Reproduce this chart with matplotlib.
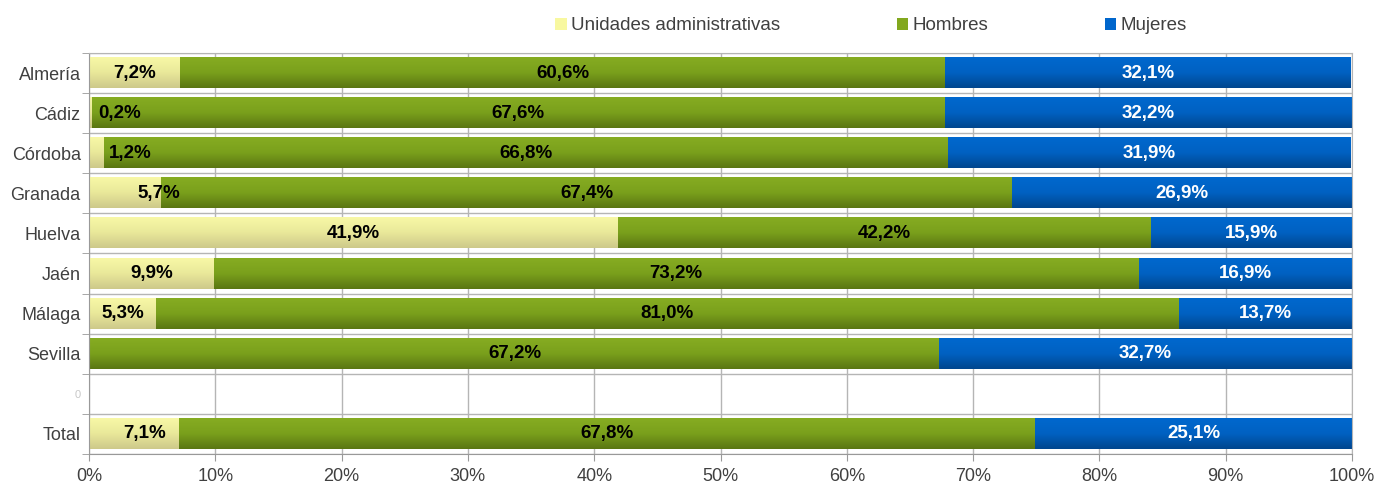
import matplotlib
matplotlib.use("Agg")
import matplotlib.pyplot as plt
from matplotlib.colors import LinearSegmentedColormap
from matplotlib.patches import Patch
import numpy as np

plt.rcParams['font.family'] = ['Liberation Sans', 'DejaVu Sans']

categorias = ["Almería", "Cádiz", "Córdoba", "Granada", "Huelva", "Jaén",
              "Málaga", "Sevilla", "0", "Total"]
unidades = [7.2, 0.2, 1.2, 5.7, 41.9, 9.9, 5.3, 0.1, 0, 7.1]
hombres = [60.6, 67.6, 66.8, 67.4, 42.2, 73.2, 81.0, 67.2, 0, 67.8]
mujeres = [32.1, 32.2, 31.9, 26.9, 15.9, 16.9, 13.7, 32.7, 0, 25.1]
etiquetas_unidades = ["7,2%", "0,2%", "1,2%", "5,7%", "41,9%", "9,9%", "5,3%", "", "", "7,1%"]
etiquetas_hombres = ["60,6%", "67,6%", "66,8%", "67,4%", "42,2%", "73,2%", "81,0%", "67,2%", "", "67,8%"]
etiquetas_mujeres = ["32,1%", "32,2%", "31,9%", "26,9%", "15,9%", "16,9%", "13,7%", "32,7%", "", "25,1%"]
series_nombres = ["Unidades administrativas", "Hombres", "Mujeres"]

# label nudges for the narrow segments (Excel pushes them right)
pos_unidades = {1: 2.4, 2: 3.3, 3: 5.5, 9: 4.4}

colores = {
    "Unidades administrativas": ("#F8F8A6", "#E9E89A", "#CDC98A"),
    "Hombres": ("#86AC22", "#7AA01C", "#5A7612"),
    "Mujeres": ("#0068CE", "#0061C2", "#00468E"),
}
leyenda_col = ["#F8F8A0", "#82A81E", "#0066CC"]

fig = plt.figure(figsize=(13.76, 4.84), dpi=100)
ax = fig.add_axes([89 / 1376, 1 - 454 / 484, (1352 - 89) / 1376, 401 / 484])

y = np.arange(len(categorias))
h = 0.75
grad = np.linspace(0, 1, 64).reshape(-1, 1)

datos = [unidades, hombres, mujeres]
izq = np.zeros(len(categorias))
for nombre, vals in zip(series_nombres, datos):
    cmap = LinearSegmentedColormap.from_list(nombre, colores[nombre])
    for i, v in enumerate(vals):
        if v <= 0:
            continue
        ax.imshow(grad, cmap=cmap, aspect='auto', origin='upper',
                  extent=(izq[i], izq[i] + v, y[i] + h / 2, y[i] - h / 2),
                  zorder=2, interpolation='bilinear')
    izq = izq + np.array(vals)

izq = np.zeros(len(categorias))
for k, (vals, etq) in enumerate(zip(datos, [etiquetas_unidades, etiquetas_hombres, etiquetas_mujeres])):
    for i, v in enumerate(vals):
        if etq[i]:
            xc = izq[i] + v / 2
            if k == 0 and i in pos_unidades:
                xc = pos_unidades[i]
            ax.text(xc, y[i], etq[i], ha='center', va='center', fontsize=13.5,
                    fontweight='bold', color='white' if k == 2 else 'black', zorder=4)
    izq = izq + np.array(vals)

ax.set_xlim(0, 100)
ax.set_ylim(len(categorias) - 0.5, -0.5)

ax.set_xticks(np.arange(0, 101, 10))
ax.set_xticklabels([f"{t}%" for t in range(0, 101, 10)], fontsize=13, color="#404040")
ax.set_yticks(y)
ax.set_yticklabels(categorias, fontsize=13, color="#404040")
ax.get_yticklabels()[8].set_color("#C8C8C8")
ax.get_yticklabels()[8].set_fontsize(8)
ax.set_yticks(np.arange(-0.5, len(categorias)), minor=True)

ax.tick_params(axis='y', which='major', length=0, pad=6)
ax.tick_params(axis='y', which='minor', length=5, color="#999999")
ax.tick_params(axis='x', which='major', length=5, color="#999999", pad=5)

ax.grid(True, axis='x', which='major', color="#B5B5B5", linewidth=1)
ax.grid(True, axis='y', which='minor', color="#B5B5B5", linewidth=1)
ax.set_axisbelow(True)
for s in ax.spines.values():
    s.set_color("#B5B5B5")
ax.spines['left'].set_color("#999999")
ax.spines['bottom'].set_color("#999999")

handles = [Patch(facecolor=c, edgecolor='none', label=n) for c, n in zip(leyenda_col, series_nombres)]
fig.legend(handles=handles, loc='center', bbox_to_anchor=(871 / 1376, 1 - 26 / 484),
           ncol=3, frameon=False, fontsize=13.5, handlelength=0.6, handleheight=0.6,
           handletextpad=0.25, columnspacing=6.2, labelcolor="#404040")

fig.savefig("out.png", dpi=100)
